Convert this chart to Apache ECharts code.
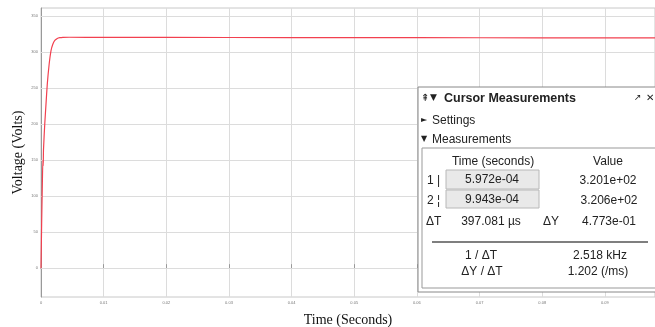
<!DOCTYPE html>
<html>
<head>
<meta charset="utf-8">
<script src="https://cdn.jsdelivr.net/npm/echarts@6/dist/echarts.min.js"></script>
<style>
  html, body { margin: 0; padding: 0; background: #fff; }
  #chart { width: 655px; height: 327px; }
</style>
</head>
<body>
<div id="chart"></div>
<script>
// voltage trace (time s, volts)
const timeVals = [0, 0.00005, 0.0001, 0.0002, 0.0003, 0.00035, 0.0004, 0.0006, 0.0008, 0.001, 0.0013, 0.0016, 0.0019, 0.0022, 0.0026, 0.003, 0.0035, 0.0045, 0.01, 0.02, 0.04, 0.06, 0.08, 0.098];
const voltVals = [0, 30, 60, 110, 150, 142, 165, 200, 228, 255, 283, 302, 311, 316, 318.8, 319.8, 320.3, 320.4, 320.3, 320.2, 320, 319.8, 319.6, 319.5];
const yTicks = [0, 50, 100, 150, 200, 250, 300, 350];

// cursor measurement panel readings
const cursorTimes = ['5.972e-04', '9.943e-04'];
const cursorValues = ['3.201e+02', '3.206e+02'];
const deltaT = '397.081 µs';
const deltaY = '4.773e-01';
const invDeltaT = '2.518 kHz';
const slope = '1.202 (/ms)';

const chart = echarts.init(document.getElementById('chart'));
const sans = '"Liberation Sans", Arial, "DejaVu Sans", sans-serif';

function txt(x, y, text, opts) {
    return {
        type: 'text', x: x, y: y, z: 20,
        style: Object.assign({
            text: text, fill: '#222', font: '12px ' + sans,
            textAlign: 'left', textVerticalAlign: 'middle'
        }, opts || {})
    };
}

const panel = [
    { type: 'rect', z: 10, shape: { x: 418, y: 87, width: 245, height: 205 },
      style: { fill: '#fff', stroke: '#888', lineWidth: 1 } },
    { type: 'rect', z: 11, shape: { x: 422, y: 148, width: 240, height: 140 },
      style: { fill: '#fff', stroke: '#999', lineWidth: 1 } },
    txt(421, 98, '⇞', { font: '10px "DejaVu Sans", sans-serif' }),
    txt(430, 98, '▼', { font: '9px "DejaVu Sans", sans-serif' }),
    txt(444, 99, 'Cursor Measurements', { font: 'bold 12.5px ' + sans }),
    txt(634, 98, '↗', { font: '9px "DejaVu Sans", sans-serif' }),
    txt(646, 98, '✕', { font: '10px "DejaVu Sans", sans-serif' }),
    txt(421, 120, '►', { font: '8px "DejaVu Sans", sans-serif' }),
    txt(432, 121, 'Settings'),
    txt(421, 139, '▼', { font: '8px "DejaVu Sans", sans-serif' }),
    txt(432, 140, 'Measurements'),
    txt(493, 162, 'Time (seconds)', { textAlign: 'center' }),
    txt(608, 162, 'Value', { textAlign: 'center' }),
    { type: 'rect', z: 15, shape: { x: 446, y: 170, width: 93, height: 19 },
      style: { fill: '#e9e9e9', stroke: '#b8b8b8', lineWidth: 1 } },
    { type: 'rect', z: 15, shape: { x: 446, y: 190, width: 93, height: 18 },
      style: { fill: '#e9e9e9', stroke: '#b8b8b8', lineWidth: 1 } },
    txt(427, 181, '1 |'),
    txt(427, 201, '2 ¦'),
    txt(492, 180, cursorTimes[0], { textAlign: 'center' }),
    txt(492, 200, cursorTimes[1], { textAlign: 'center' }),
    txt(608, 181, cursorValues[0], { textAlign: 'center' }),
    txt(609, 201, cursorValues[1], { textAlign: 'center' }),
    txt(426, 222, 'ΔT'),
    txt(491, 222, deltaT, { textAlign: 'center' }),
    txt(543, 222, 'ΔY'),
    txt(609, 222, deltaY, { textAlign: 'center' }),
    { type: 'line', z: 15, shape: { x1: 432, y1: 242, x2: 648, y2: 242 },
      style: { stroke: '#555', lineWidth: 1.6 } },
    txt(481, 256, '1 / ΔT', { textAlign: 'center' }),
    txt(600, 256, invDeltaT, { textAlign: 'center' }),
    txt(482, 272, 'ΔY / ΔT', { textAlign: 'center' }),
    txt(598, 272, slope, { textAlign: 'center' })
];

const option = {
    backgroundColor: '#fff',
    animation: false,
    grid: { left: 41, right: 0, top: 8, bottom: 30, show: true, borderColor: '#c8c8c8', borderWidth: 1,
        containLabel: false, outerBoundsMode: 'none' },
    xAxis: {
        type: 'value', min: 0, max: 0.098, interval: 0.01,
        name: 'Time (Seconds)', nameLocation: 'middle', nameGap: 16,
        nameTextStyle: { fontFamily: '"Liberation Serif", "Times New Roman", serif', fontSize: 14, color: '#111' },
        axisLine: { lineStyle: { color: '#999' } },
        axisTick: { show: true, inside: true, length: 4, lineStyle: { color: '#999' } },
        axisLabel: { fontSize: 4, color: '#777', margin: 4, showMaxLabel: false,
            formatter: v => v === 0 ? '0' : v.toFixed(2) },
        splitLine: { show: true, lineStyle: { color: '#dcdcdc' } }
    },
    yAxis: {
        type: 'value', min: -40, max: 361,
        name: 'Voltage (Volts)', nameLocation: 'middle', nameGap: 16, nameMoveOverlap: false,
        nameTextStyle: { fontFamily: '"Liberation Serif", "Times New Roman", serif', fontSize: 14, color: '#111' },
        axisLine: { show: true, lineStyle: { color: '#999' } },
        axisTick: { show: true, inside: true, length: 4, customValues: yTicks, lineStyle: { color: '#999' } },
        axisLabel: { fontSize: 4, color: '#777', margin: 3, customValues: yTicks },
        splitLine: { show: false }
    },
    series: [{
        type: 'line',
        data: timeVals.map((t, i) => [t, voltVals[i]]),
        showSymbol: false,
        smooth: 0.2,
        lineStyle: { color: '#f2404f', width: 1.2 },
        markLine: {
            silent: true, symbol: 'none', label: { show: false },
            lineStyle: { color: '#dcdcdc', type: 'solid', width: 1 },
            data: yTicks.map(v => ({ yAxis: v }))
        },
        z: 5
    }],
    graphic: panel
};
chart.setOption(option);
</script>
</body>
</html>
